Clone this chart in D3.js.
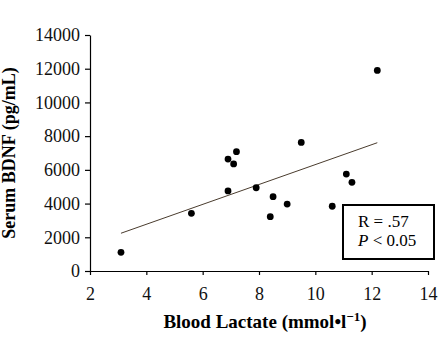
<!DOCTYPE html>
<html>
<head>
<meta charset="utf-8">
<script src="https://cdn.jsdelivr.net/npm/d3@7"></script>
<style>
  body { margin: 0; background: #fff; }
  svg { display: block; }
  svg text { font-family: "Liberation Serif", "Times New Roman", serif; }
</style>
</head>
<body>
<div id="chart"></div>
<script>
// blood lactate (mmol/l) vs serum BDNF (pg/mL), one entry per subject
const lactate = [3.1, 5.6, 6.9, 6.9, 7.1, 7.2, 7.9, 8.4, 8.5, 9.0, 9.5, 10.6, 11.1, 11.3, 12.2];
const bdnf = [1110, 3420, 6640, 4750, 6350, 7080, 4940, 3220, 4410, 3970, 7630, 3840, 5750, 5260, 11900];

// fitted line end points
const fitX = [3.1, 12.2];
const fitY = [2240, 7610];

const xTicks = [2, 4, 6, 8, 10, 12, 14];
const yTicks = [0, 2000, 4000, 6000, 8000, 10000, 12000, 14000];
const statLines = ['R = .57', 'P < 0.05'];

const margin = { top: 35, right: 10, bottom: 78, left: 90 };
const W = 438, H = 349;
const width = W - margin.left - margin.right;
const height = H - margin.top - margin.bottom;

const svg = d3.select('#chart')
  .append('svg')
  .attr('width', W)
  .attr('height', H);

const g = svg.append('g')
  .attr('transform', `translate(${margin.left}, ${margin.top})`);

const x = d3.scaleLinear().domain([2, 14]).range([0, width]);
const y = d3.scaleLinear().domain([0, 14000]).range([height, 0]);

// x-axis
g.append('g')
  .attr('transform', `translate(0, ${height})`)
  .call(d3.axisBottom(x).tickValues(xTicks).tickFormat(d3.format('d'))
    .tickSize(4).tickPadding(12).tickSizeOuter(0))
  .call(a => a.selectAll('path, line').attr('stroke', '#000').attr('stroke-width', 1.2))
  .selectAll('text')
  .style('font-size', '18px')
  .attr('fill', '#111');

// y-axis
g.append('g')
  .call(d3.axisLeft(y).tickValues(yTicks).tickFormat(d3.format('d'))
    .tickSize(5).tickPadding(5).tickSizeOuter(0))
  .call(a => a.selectAll('path, line').attr('stroke', '#000').attr('stroke-width', 1.2))
  .selectAll('text')
  .style('font-size', '18px')
  .attr('fill', '#111');

// regression line
g.append('path')
  .datum(fitX.map((d, i) => [d, fitY[i]]))
  .attr('fill', 'none')
  .attr('stroke', '#4a3c2e')
  .attr('stroke-width', 1)
  .attr('d', d3.line().x(d => x(d[0])).y(d => y(d[1])));

// scatter dots
g.append('g')
  .selectAll('circle')
  .data(lactate.map((d, i) => ({ x: d, y: bdnf[i] })))
  .join('circle')
  .attr('cx', d => x(d.x))
  .attr('cy', d => y(d.y))
  .attr('r', 3.4)
  .attr('fill', '#000');

// stats box
const box = svg.append('g').attr('transform', 'translate(343, 205)');
box.append('rect')
  .attr('width', 91)
  .attr('height', 54)
  .attr('fill', '#fff')
  .attr('stroke', '#000')
  .attr('stroke-width', 2);

box.append('text')
  .attr('x', 15)
  .attr('y', 22)
  .style('font-size', '17px')
  .text(statLines[0]);

const p = box.append('text')
  .attr('x', 15)
  .attr('y', 41)
  .style('font-size', '17px');
p.append('tspan').style('font-style', 'italic').text(statLines[1].slice(0, 1));
p.append('tspan').text(statLines[1].slice(1));

// axis titles
const xt = svg.append('text')
  .attr('x', 265)
  .attr('y', 328)
  .attr('text-anchor', 'middle')
  .style('font-size', '19px')
  .style('font-weight', 'bold');
xt.append('tspan').text('Blood Lactate (mmol•l');
xt.append('tspan').attr('dy', -7).style('font-size', '13px').text('−1');
xt.append('tspan').attr('dy', 7).text(')');

svg.append('text')
  .attr('transform', `translate(15, 153) rotate(-90)`)
  .attr('text-anchor', 'middle')
  .style('font-size', '18px')
  .style('font-weight', 'bold')
  .text('Serum BDNF (pg/mL)');
</script>
</body>
</html>
